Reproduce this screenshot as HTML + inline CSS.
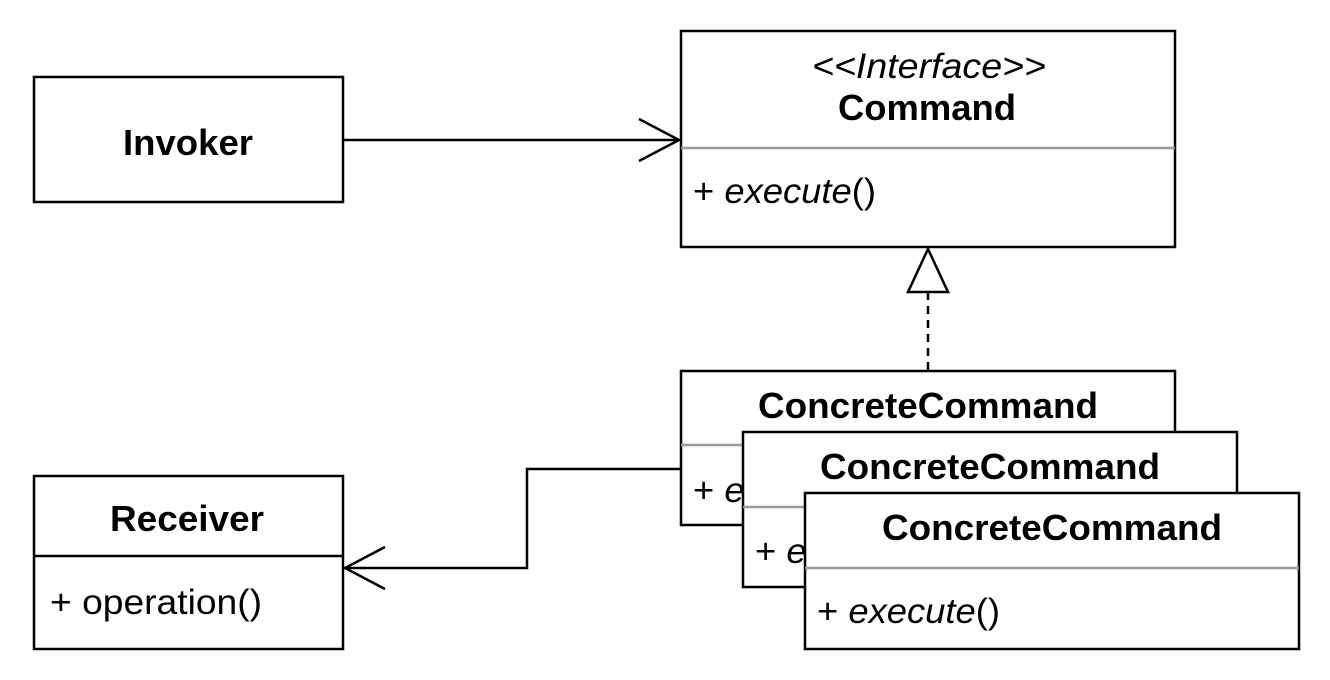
<!DOCTYPE html>
<html><head><meta charset="utf-8"><style>
html,body{margin:0;padding:0;background:#fff;}
svg{display:block;}
text{font-family:"Liberation Sans",Arial,sans-serif;fill:#000;}
.b{font-weight:bold;font-size:36px;}
.n{font-size:35px;}
</style></head><body>
<svg width="1330" height="680" viewBox="0 0 1330 680" xmlns="http://www.w3.org/2000/svg">
<g fill="#fff" stroke="#000" stroke-width="2.5">
<rect x="34" y="77" width="309" height="125"/>
<rect x="681" y="31" width="494" height="216"/>
<rect x="34" y="476" width="309" height="173"/>
</g>
<line x1="34" y1="556" x2="343" y2="556" stroke="#000" stroke-width="2.5"/>
<line x1="681" y1="148" x2="1175" y2="148" stroke="#999" stroke-width="2.5"/>
<g transform="translate(0,2)">
<text class="b" x="123" y="153" textLength="130" lengthAdjust="spacingAndGlyphs">Invoker</text>
<text class="n" x="812" y="76" font-style="italic" textLength="234" lengthAdjust="spacingAndGlyphs">&lt;&lt;Interface&gt;&gt;</text>
<text class="b" x="838" y="118" textLength="178" lengthAdjust="spacingAndGlyphs">Command</text>
<text class="n" x="693" y="201" textLength="183" lengthAdjust="spacingAndGlyphs">+ <tspan font-style="italic">execute</tspan>()</text>
<text class="b" x="110" y="529" textLength="154" lengthAdjust="spacingAndGlyphs">Receiver</text>
<text class="n" x="50" y="612" textLength="212" lengthAdjust="spacingAndGlyphs">+ operation()</text>
</g>

<line x1="343" y1="140" x2="679" y2="140" stroke="#000" stroke-width="2.5"/>
<polyline points="639,119 679,140 639,161" fill="none" stroke="#000" stroke-width="2.5"/>

<line x1="928" y1="292" x2="928" y2="371" stroke="#000" stroke-width="2.5" stroke-dasharray="8,6"/>
<polygon points="928,249 908,292 948,292" fill="#fff" stroke="#000" stroke-width="2.5"/>

<rect x="681" y="371" width="494" height="154" fill="#fff" stroke="#000" stroke-width="2.5"/>
<line x1="681" y1="445" x2="1175" y2="445" stroke="#999" stroke-width="2.5"/>
<text class="b" x="758" y="418" textLength="340" lengthAdjust="spacingAndGlyphs">ConcreteCommand</text>
<text class="n" x="693" y="502" textLength="183" lengthAdjust="spacingAndGlyphs">+ <tspan font-style="italic">execute</tspan>()</text>

<rect x="743" y="432" width="494" height="155" fill="#fff" stroke="#000" stroke-width="2.5"/>
<line x1="743" y1="507" x2="1237" y2="507" stroke="#999" stroke-width="2.5"/>
<text class="b" x="820" y="479" textLength="340" lengthAdjust="spacingAndGlyphs">ConcreteCommand</text>
<text class="n" x="755" y="563" textLength="183" lengthAdjust="spacingAndGlyphs">+ <tspan font-style="italic">execute</tspan>()</text>

<rect x="805" y="493" width="494" height="156" fill="#fff" stroke="#000" stroke-width="2.5"/>
<line x1="805" y1="568" x2="1299" y2="568" stroke="#999" stroke-width="2.5"/>
<text class="b" x="882" y="540" textLength="340" lengthAdjust="spacingAndGlyphs">ConcreteCommand</text>
<text class="n" x="817" y="623" textLength="183" lengthAdjust="spacingAndGlyphs">+ <tspan font-style="italic">execute</tspan>()</text>

<polyline points="681,469 527,469 527,568 345,568" fill="none" stroke="#000" stroke-width="2.5"/>
<polyline points="385,547 345,568 385,589" fill="none" stroke="#000" stroke-width="2.5"/>
</svg>
</body></html>
